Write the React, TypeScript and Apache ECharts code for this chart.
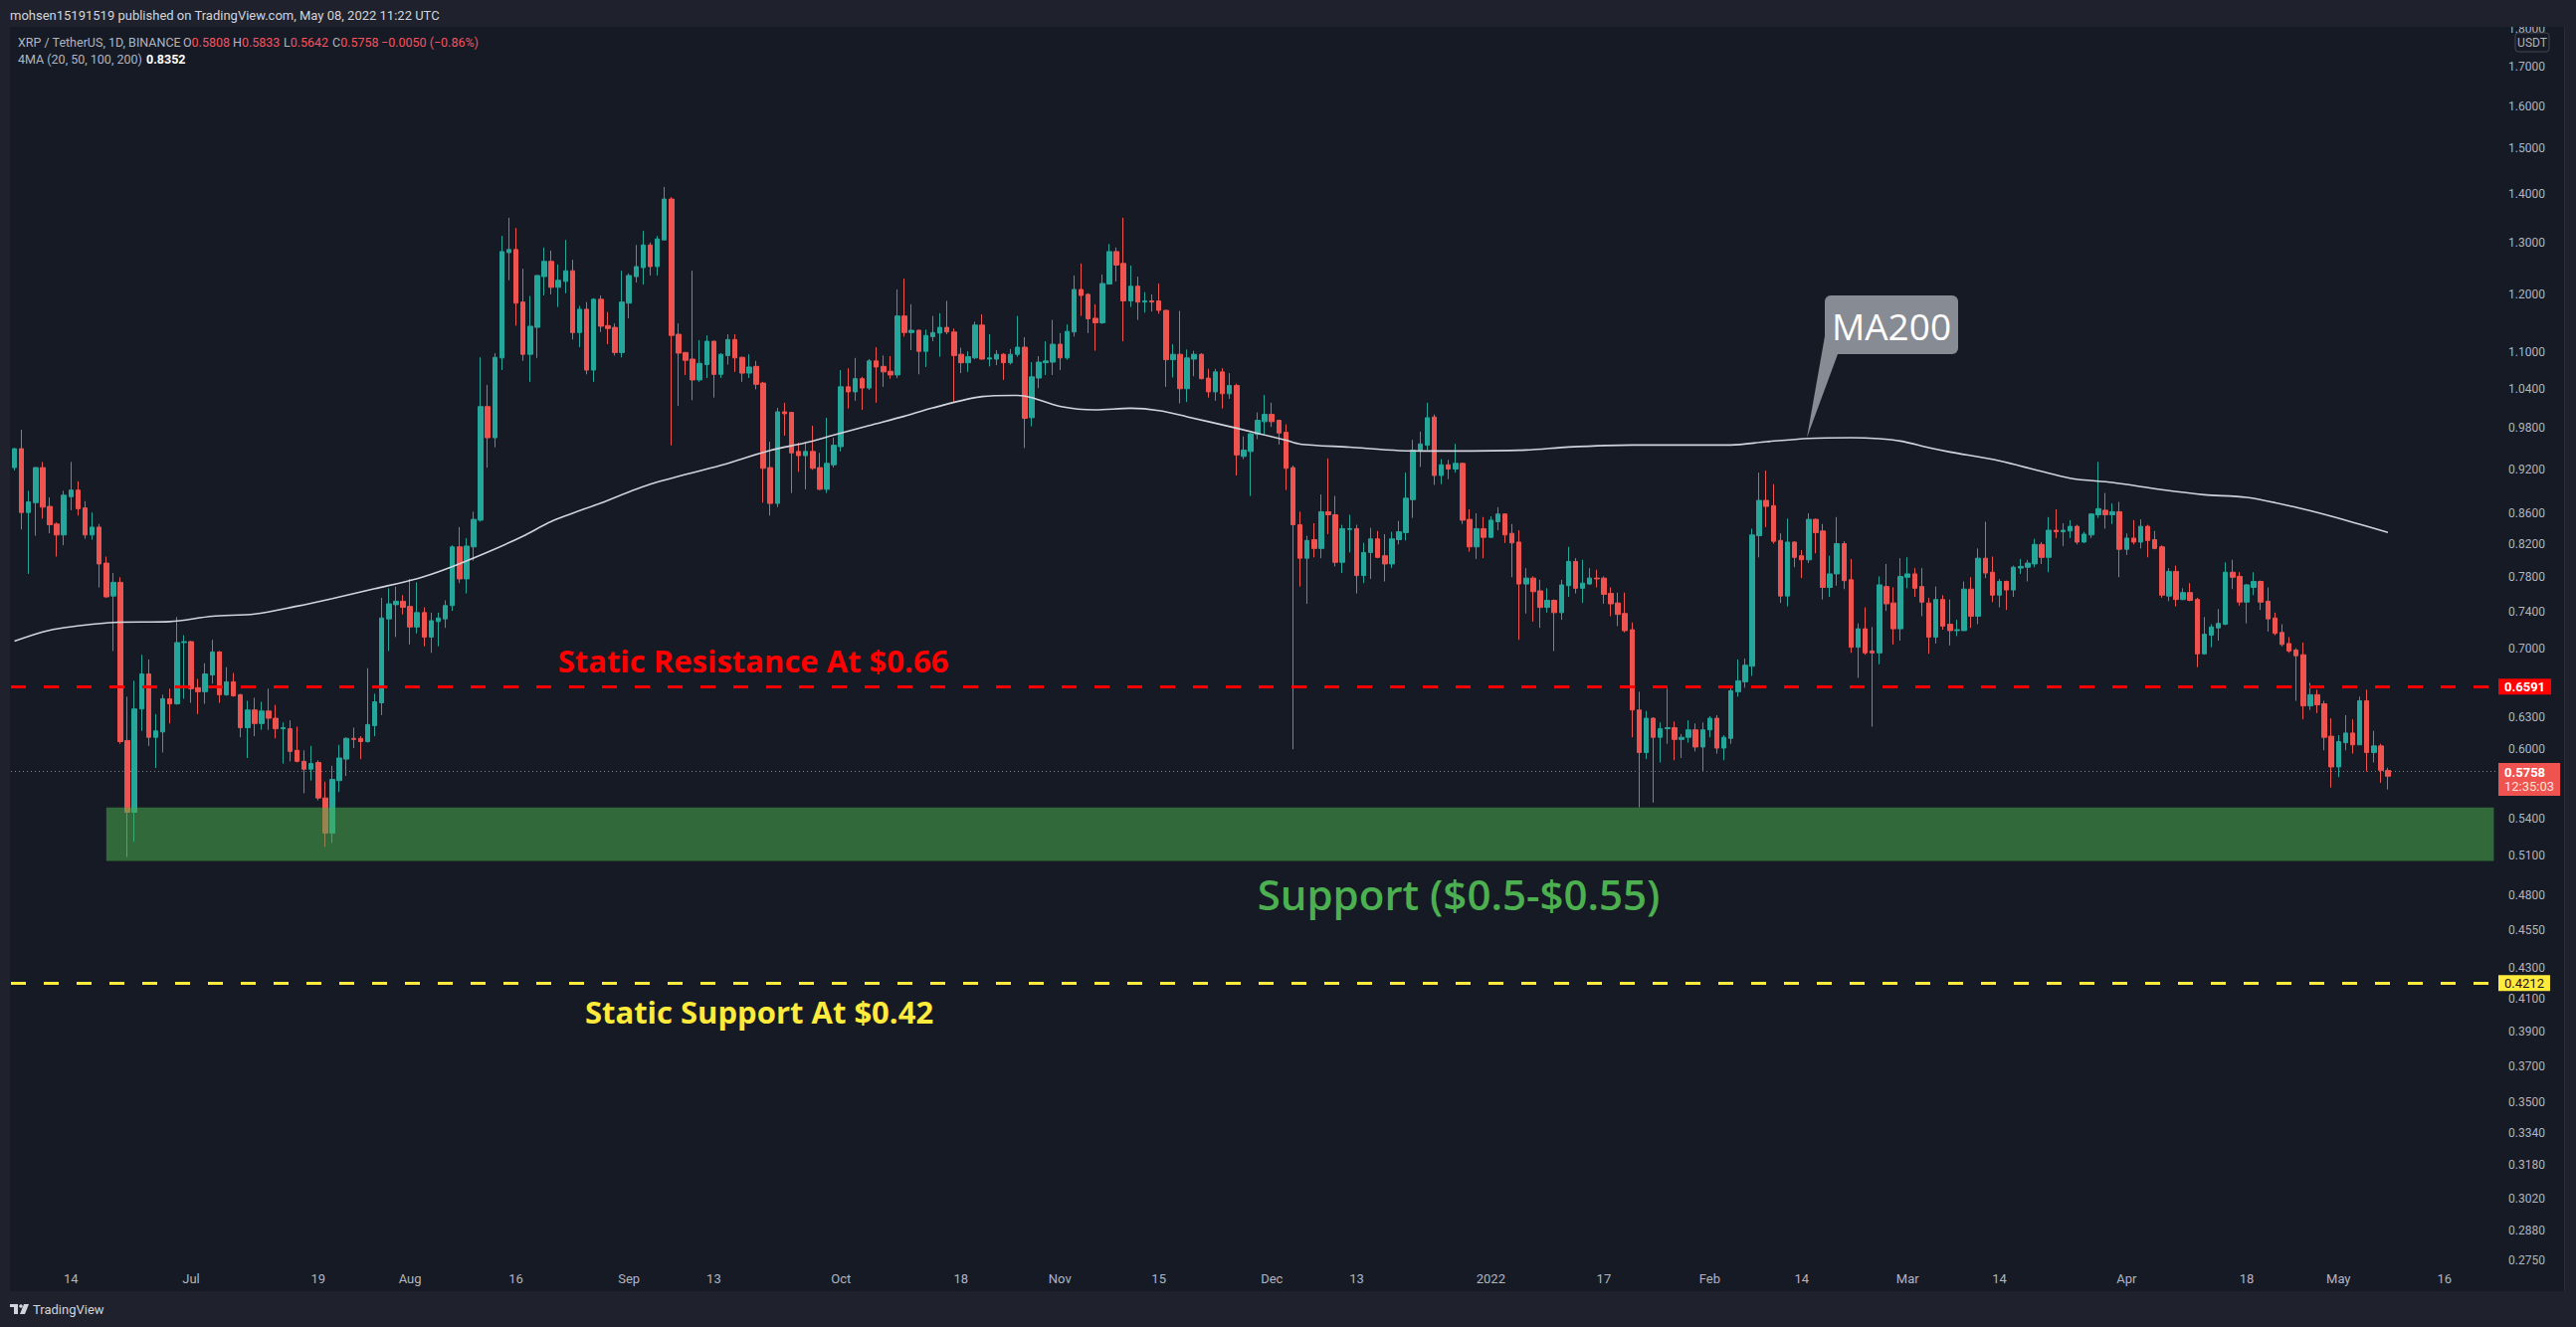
import React, { useEffect, useRef } from "react";
import * as echarts from "echarts";

// ---------- categories (daily) ----------
const START_UTC = Date.UTC(2021, 5, 6);
const DAY_COUNT = 352;
const dates: string[] = Array.from({ length: DAY_COUNT }, (_, i) =>
  new Date(START_UTC + i * 86400000).toISOString().slice(0, 10)
);

// ---------- OHLC [open, close, low, high] ----------
const jun2021 = [
  [0.922, 0.949, 0.918, 0.950], [0.949, 0.861, 0.839, 0.977], [0.861, 0.875, 0.784, 0.890], [0.874, 0.922, 0.831, 0.923],
  [0.922, 0.868, 0.853, 0.930], [0.869, 0.845, 0.834, 0.881], [0.846, 0.832, 0.805, 0.848], [0.832, 0.884, 0.819, 0.890],
  [0.882, 0.891, 0.864, 0.930], [0.891, 0.866, 0.857, 0.903], [0.867, 0.832, 0.827, 0.876], [0.832, 0.842, 0.826, 0.861],
  [0.842, 0.796, 0.768, 0.846], [0.797, 0.757, 0.756, 0.805], [0.758, 0.774, 0.697, 0.785], [0.774, 0.607, 0.605, 0.780],
  [0.608, 0.545, 0.509, 0.650], [0.545, 0.638, 0.521, 0.666], [0.638, 0.673, 0.617, 0.693], [0.673, 0.611, 0.603, 0.688],
  [0.611, 0.617, 0.583, 0.633], [0.616, 0.648, 0.597, 0.652], [0.648, 0.643, 0.624, 0.658], [0.643, 0.706, 0.642, 0.734],
  [0.706, 0.707, 0.648, 0.714],
];
const jul2021 = [
  [0.707, 0.658, 0.644, 0.708], [0.659, 0.655, 0.633, 0.668], [0.655, 0.673, 0.643, 0.684], [0.672, 0.696, 0.663, 0.709],
  [0.696, 0.652, 0.644, 0.697], [0.652, 0.665, 0.651, 0.680], [0.665, 0.651, 0.650, 0.674], [0.652, 0.620, 0.611, 0.653],
  [0.620, 0.637, 0.592, 0.646], [0.637, 0.624, 0.612, 0.649], [0.624, 0.636, 0.618, 0.645], [0.636, 0.629, 0.618, 0.658],
  [0.629, 0.619, 0.610, 0.642], [0.619, 0.620, 0.587, 0.625], [0.619, 0.598, 0.589, 0.627], [0.599, 0.589, 0.588, 0.621],
  [0.589, 0.582, 0.561, 0.599], [0.582, 0.587, 0.572, 0.603], [0.588, 0.557, 0.555, 0.590], [0.557, 0.528, 0.517, 0.571],
  [0.528, 0.573, 0.520, 0.585], [0.572, 0.592, 0.562, 0.604], [0.591, 0.610, 0.576, 0.611], [0.610, 0.609, 0.601, 0.620],
  [0.610, 0.607, 0.591, 0.612], [0.607, 0.623, 0.606, 0.679], [0.622, 0.645, 0.612, 0.653], [0.644, 0.733, 0.632, 0.756],
  [0.732, 0.749, 0.697, 0.767], [0.748, 0.752, 0.712, 0.769], [0.752, 0.745, 0.737, 0.759],
];
const aug2021 = [
  [0.746, 0.723, 0.704, 0.778], [0.723, 0.739, 0.716, 0.774], [0.739, 0.712, 0.702, 0.745], [0.712, 0.730, 0.695, 0.739],
  [0.729, 0.733, 0.702, 0.739], [0.732, 0.747, 0.722, 0.753], [0.747, 0.817, 0.741, 0.819], [0.817, 0.778, 0.773, 0.842],
  [0.778, 0.818, 0.761, 0.828], [0.817, 0.852, 0.800, 0.862], [0.851, 1.012, 0.849, 1.091], [1.012, 0.965, 0.922, 1.046],
  [0.965, 1.091, 0.951, 1.098], [1.090, 1.282, 1.070, 1.313], [1.280, 1.286, 1.227, 1.350], [1.286, 1.185, 1.145, 1.329],
  [1.187, 1.096, 1.085, 1.249], [1.096, 1.144, 1.051, 1.198], [1.142, 1.236, 1.090, 1.237], [1.234, 1.263, 1.199, 1.290],
  [1.263, 1.214, 1.201, 1.284], [1.214, 1.227, 1.178, 1.257], [1.225, 1.245, 1.203, 1.305], [1.245, 1.133, 1.121, 1.266],
  [1.133, 1.174, 1.108, 1.180], [1.174, 1.070, 1.063, 1.187], [1.070, 1.192, 1.051, 1.194], [1.192, 1.144, 1.134, 1.199],
  [1.145, 1.140, 1.113, 1.169], [1.142, 1.099, 1.094, 1.149], [1.099, 1.187, 1.091, 1.245],
];
const sep2021 = [
  [1.185, 1.236, 1.158, 1.240], [1.234, 1.253, 1.223, 1.295], [1.251, 1.295, 1.219, 1.323], [1.295, 1.253, 1.236, 1.300],
  [1.253, 1.307, 1.236, 1.313], [1.305, 1.389, 1.305, 1.415], [1.389, 1.128, 0.954, 1.393], [1.130, 1.098, 1.013, 1.149],
  [1.099, 1.086, 1.062, 1.100], [1.088, 1.054, 1.022, 1.245], [1.054, 1.081, 1.051, 1.120], [1.079, 1.118, 1.057, 1.128],
  [1.118, 1.063, 1.026, 1.119], [1.063, 1.096, 1.057, 1.098], [1.094, 1.121, 1.079, 1.130], [1.121, 1.090, 1.067, 1.130],
  [1.091, 1.065, 1.051, 1.092], [1.065, 1.075, 1.057, 1.096], [1.076, 1.047, 1.039, 1.085], [1.049, 0.921, 0.874, 1.051],
  [0.922, 0.873, 0.857, 0.959], [0.873, 1.004, 0.868, 1.010], [1.004, 1.001, 0.968, 1.018], [1.003, 0.943, 0.887, 1.004],
  [0.945, 0.939, 0.916, 0.958], [0.939, 0.945, 0.892, 0.958], [0.945, 0.921, 0.919, 0.983], [0.922, 0.892, 0.891, 0.943],
  [0.892, 0.928, 0.887, 0.995], [0.926, 0.954, 0.922, 0.965],
];
const oct2021 = [
  [0.952, 1.043, 0.945, 1.070], [1.043, 1.035, 1.009, 1.073], [1.035, 1.056, 1.021, 1.090], [1.056, 1.041, 1.007, 1.059],
  [1.041, 1.085, 1.038, 1.088], [1.085, 1.075, 1.018, 1.108], [1.076, 1.067, 1.043, 1.094], [1.068, 1.062, 1.056, 1.093],
  [1.062, 1.162, 1.057, 1.210], [1.162, 1.133, 1.126, 1.230], [1.133, 1.137, 1.103, 1.183], [1.137, 1.101, 1.063, 1.138],
  [1.101, 1.128, 1.075, 1.138], [1.126, 1.133, 1.118, 1.162], [1.132, 1.142, 1.092, 1.167], [1.142, 1.134, 1.130, 1.189],
  [1.134, 1.094, 1.019, 1.140], [1.096, 1.082, 1.065, 1.107], [1.082, 1.092, 1.067, 1.101], [1.090, 1.146, 1.088, 1.152],
  [1.146, 1.088, 1.087, 1.165], [1.088, 1.090, 1.076, 1.130], [1.088, 1.096, 1.078, 1.103], [1.096, 1.082, 1.054, 1.098],
  [1.082, 1.096, 1.079, 1.105], [1.096, 1.108, 1.092, 1.162], [1.108, 0.994, 0.950, 1.125], [0.995, 1.059, 0.982, 1.083],
  [1.057, 1.083, 1.041, 1.093], [1.082, 1.085, 1.062, 1.118], [1.083, 1.113, 1.062, 1.155],
];
const nov2021 = [
  [1.113, 1.090, 1.070, 1.132], [1.090, 1.135, 1.087, 1.147], [1.134, 1.210, 1.126, 1.236], [1.210, 1.199, 1.162, 1.259],
  [1.201, 1.157, 1.132, 1.203], [1.158, 1.150, 1.102, 1.183], [1.150, 1.221, 1.148, 1.238], [1.220, 1.282, 1.220, 1.297],
  [1.282, 1.256, 1.225, 1.290], [1.259, 1.189, 1.118, 1.350], [1.189, 1.216, 1.178, 1.255], [1.216, 1.187, 1.155, 1.234],
  [1.187, 1.189, 1.168, 1.205], [1.189, 1.187, 1.170, 1.201], [1.189, 1.172, 1.166, 1.221], [1.172, 1.087, 1.043, 1.173],
  [1.087, 1.096, 1.058, 1.113], [1.096, 1.040, 1.017, 1.171], [1.040, 1.090, 1.019, 1.104], [1.088, 1.096, 1.060, 1.102],
  [1.096, 1.056, 1.055, 1.098], [1.057, 1.035, 1.026, 1.072], [1.035, 1.067, 1.021, 1.072], [1.067, 1.032, 1.009, 1.073],
  [1.032, 1.045, 1.024, 1.065], [1.045, 0.940, 0.911, 1.048], [0.938, 0.947, 0.934, 0.967], [0.945, 0.971, 0.883, 0.972],
  [0.970, 0.991, 0.963, 1.003], [0.989, 1.000, 0.970, 1.030],
];
const dec2021 = [
  [1.000, 0.989, 0.981, 1.018], [0.991, 0.972, 0.955, 0.992], [0.973, 0.921, 0.891, 0.985], [0.922, 0.845, 0.600, 0.925],
  [0.845, 0.803, 0.769, 0.862], [0.803, 0.825, 0.749, 0.831], [0.826, 0.815, 0.804, 0.847], [0.815, 0.862, 0.803, 0.885],
  [0.862, 0.858, 0.833, 0.935], [0.858, 0.798, 0.793, 0.883], [0.798, 0.840, 0.785, 0.845], [0.839, 0.840, 0.810, 0.858],
  [0.840, 0.782, 0.761, 0.845], [0.782, 0.810, 0.773, 0.822], [0.810, 0.827, 0.778, 0.841], [0.827, 0.804, 0.803, 0.837],
  [0.806, 0.796, 0.775, 0.833], [0.796, 0.827, 0.791, 0.836], [0.826, 0.836, 0.820, 0.850], [0.835, 0.880, 0.825, 0.915],
  [0.878, 0.947, 0.854, 0.962], [0.947, 0.956, 0.923, 0.974], [0.954, 0.995, 0.947, 1.018], [0.996, 0.911, 0.898, 1.000],
  [0.911, 0.926, 0.899, 0.934], [0.926, 0.920, 0.906, 0.933], [0.920, 0.928, 0.915, 0.956], [0.928, 0.851, 0.846, 0.929],
  [0.852, 0.817, 0.811, 0.865], [0.817, 0.840, 0.802, 0.860], [0.840, 0.829, 0.803, 0.855],
];
const jan2022 = [
  [0.829, 0.851, 0.828, 0.856], [0.849, 0.859, 0.838, 0.868], [0.859, 0.832, 0.822, 0.860], [0.834, 0.822, 0.780, 0.846],
  [0.823, 0.772, 0.709, 0.838], [0.772, 0.779, 0.738, 0.791], [0.779, 0.763, 0.729, 0.781], [0.764, 0.745, 0.722, 0.777],
  [0.745, 0.753, 0.739, 0.767], [0.753, 0.739, 0.697, 0.754], [0.739, 0.771, 0.731, 0.777], [0.770, 0.799, 0.757, 0.817],
  [0.799, 0.767, 0.761, 0.803], [0.767, 0.773, 0.750, 0.801], [0.772, 0.779, 0.771, 0.791], [0.779, 0.778, 0.768, 0.789],
  [0.779, 0.760, 0.749, 0.781], [0.761, 0.749, 0.735, 0.768], [0.750, 0.737, 0.724, 0.762], [0.738, 0.719, 0.717, 0.762],
  [0.720, 0.637, 0.611, 0.728], [0.637, 0.597, 0.549, 0.655], [0.597, 0.629, 0.591, 0.636], [0.629, 0.611, 0.553, 0.630],
  [0.611, 0.619, 0.588, 0.625], [0.619, 0.620, 0.605, 0.658], [0.620, 0.609, 0.590, 0.626], [0.609, 0.611, 0.592, 0.614],
  [0.611, 0.618, 0.606, 0.627], [0.618, 0.602, 0.598, 0.624], [0.602, 0.618, 0.580, 0.625],
];
const feb2022 = [
  [0.618, 0.629, 0.611, 0.631], [0.629, 0.601, 0.596, 0.632], [0.601, 0.611, 0.590, 0.613], [0.610, 0.656, 0.605, 0.659],
  [0.655, 0.666, 0.650, 0.688], [0.665, 0.682, 0.659, 0.689], [0.681, 0.832, 0.671, 0.840], [0.831, 0.877, 0.804, 0.915],
  [0.877, 0.869, 0.842, 0.918], [0.870, 0.824, 0.821, 0.899], [0.825, 0.758, 0.750, 0.834], [0.758, 0.823, 0.746, 0.853],
  [0.823, 0.804, 0.792, 0.824], [0.806, 0.801, 0.779, 0.813], [0.801, 0.852, 0.797, 0.860], [0.852, 0.835, 0.809, 0.853],
  [0.837, 0.768, 0.754, 0.846], [0.768, 0.784, 0.757, 0.806], [0.784, 0.821, 0.770, 0.855], [0.821, 0.776, 0.766, 0.824],
  [0.777, 0.701, 0.695, 0.802], [0.701, 0.721, 0.669, 0.727], [0.721, 0.695, 0.693, 0.745], [0.697, 0.695, 0.621, 0.723],
  [0.695, 0.771, 0.683, 0.781], [0.769, 0.749, 0.741, 0.796], [0.750, 0.721, 0.704, 0.768], [0.721, 0.781, 0.708, 0.803],
];
const mar2022 = [
  [0.780, 0.784, 0.767, 0.804], [0.784, 0.767, 0.757, 0.791], [0.769, 0.751, 0.735, 0.791], [0.750, 0.712, 0.694, 0.756],
  [0.712, 0.754, 0.705, 0.769], [0.754, 0.724, 0.720, 0.759], [0.726, 0.719, 0.703, 0.754], [0.719, 0.720, 0.713, 0.731],
  [0.719, 0.766, 0.719, 0.775], [0.766, 0.735, 0.722, 0.780], [0.735, 0.803, 0.726, 0.815], [0.803, 0.785, 0.779, 0.849],
  [0.786, 0.759, 0.751, 0.805], [0.759, 0.775, 0.745, 0.778], [0.775, 0.765, 0.742, 0.776], [0.765, 0.792, 0.757, 0.794],
  [0.791, 0.793, 0.784, 0.802], [0.792, 0.797, 0.775, 0.801], [0.796, 0.820, 0.792, 0.827], [0.820, 0.804, 0.796, 0.823],
  [0.804, 0.838, 0.786, 0.855], [0.838, 0.836, 0.828, 0.865], [0.836, 0.838, 0.818, 0.847], [0.837, 0.843, 0.828, 0.851],
  [0.843, 0.823, 0.820, 0.845], [0.823, 0.833, 0.822, 0.836], [0.832, 0.859, 0.828, 0.860], [0.858, 0.866, 0.854, 0.930],
  [0.864, 0.858, 0.840, 0.887], [0.858, 0.862, 0.846, 0.873], [0.862, 0.814, 0.780, 0.875],
];
const apr2022 = [
  [0.814, 0.828, 0.807, 0.834], [0.828, 0.823, 0.820, 0.851], [0.823, 0.843, 0.815, 0.852], [0.843, 0.825, 0.804, 0.845],
  [0.826, 0.815, 0.814, 0.837], [0.817, 0.759, 0.756, 0.819], [0.758, 0.787, 0.752, 0.791], [0.787, 0.754, 0.746, 0.794],
  [0.754, 0.762, 0.753, 0.767], [0.762, 0.753, 0.752, 0.773], [0.754, 0.694, 0.680, 0.756], [0.694, 0.715, 0.693, 0.734],
  [0.714, 0.723, 0.701, 0.726], [0.722, 0.727, 0.708, 0.743], [0.726, 0.786, 0.725, 0.798], [0.786, 0.780, 0.766, 0.801],
  [0.781, 0.751, 0.747, 0.786], [0.751, 0.771, 0.727, 0.772], [0.768, 0.775, 0.759, 0.786], [0.775, 0.751, 0.742, 0.776],
  [0.752, 0.732, 0.718, 0.768], [0.733, 0.716, 0.714, 0.739], [0.717, 0.704, 0.702, 0.726], [0.705, 0.697, 0.695, 0.712],
  [0.698, 0.692, 0.646, 0.700], [0.693, 0.641, 0.628, 0.706], [0.641, 0.652, 0.637, 0.664], [0.652, 0.642, 0.634, 0.657],
  [0.643, 0.611, 0.599, 0.646], [0.612, 0.584, 0.566, 0.629],
];
const may2022 = [
  [0.584, 0.607, 0.575, 0.613], [0.606, 0.615, 0.599, 0.632], [0.615, 0.604, 0.596, 0.628], [0.604, 0.646, 0.604, 0.650],
  [0.646, 0.597, 0.580, 0.657], [0.597, 0.603, 0.588, 0.617], [0.603, 0.581, 0.570, 0.605], [0.5808, 0.5758, 0.5642, 0.5833],
];
const candles = [
  ...jun2021, ...jul2021, ...aug2021, ...sep2021, ...oct2021, ...nov2021,
  ...dec2021, ...jan2022, ...feb2022, ...mar2022, ...apr2022, ...may2022,
];

// ---------- MA200 ----------
const maDates = [
  "2021-06-06", "2021-06-10", "2021-06-13", "2021-06-20", "2021-06-28", "2021-07-04", "2021-07-10", "2021-07-16",
  "2021-07-21", "2021-07-27", "2021-08-02", "2021-08-06", "2021-08-12", "2021-08-17", "2021-08-21", "2021-08-28",
  "2021-09-04", "2021-09-14", "2021-09-21", "2021-09-26", "2021-09-30", "2021-10-05", "2021-10-10", "2021-10-14",
  "2021-10-21", "2021-10-26", "2021-10-28", "2021-11-01", "2021-11-06", "2021-11-11", "2021-11-15", "2021-11-19",
  "2021-11-26", "2021-12-03", "2021-12-05", "2021-12-12", "2021-12-19", "2021-12-24", "2022-01-06", "2022-01-12",
  "2022-01-21", "2022-02-04", "2022-02-09", "2022-02-15", "2022-02-21", "2022-02-25", "2022-02-28", "2022-03-04",
  "2022-03-07", "2022-03-14", "2022-03-24", "2022-03-30", "2022-04-06", "2022-04-12", "2022-04-18", "2022-04-25",
  "2022-04-30", "2022-05-08",
];
const maValues = [
  0.7075, 0.7175, 0.7222, 0.728, 0.729, 0.735, 0.7374, 0.7463,
  0.755, 0.7665, 0.7783, 0.7895, 0.8105, 0.8304, 0.8492, 0.8735,
  0.899, 0.9253, 0.9466, 0.9577, 0.969, 0.9832, 0.9973, 1.01,
  1.0277, 1.0295, 1.026, 1.0123, 1.0069, 1.0094, 1.0059, 0.9964,
  0.9793, 0.9613, 0.9557, 0.9512, 0.9463, 0.9457, 0.9471, 0.9515,
  0.9544, 0.9544, 0.9592, 0.964, 0.965, 0.9636, 0.9602, 0.9505,
  0.9443, 0.9316, 0.9072, 0.9013, 0.8914, 0.8846, 0.881, 0.8678,
  0.856, 0.8352,
];

// ---------- axis ticks ----------
const timeTickDates = [
  "2021-06-14", "2021-07-01", "2021-07-19", "2021-08-01", "2021-08-16", "2021-09-01", "2021-09-13", "2021-10-01",
  "2021-10-18", "2021-11-01", "2021-11-15", "2021-12-01", "2021-12-13", "2022-01-01", "2022-01-17", "2022-02-01",
  "2022-02-14", "2022-03-01", "2022-03-14", "2022-04-01", "2022-04-18", "2022-05-01", "2022-05-16",
];
const timeTickLabels = [
  "14", "Jul", "19", "Aug", "16", "Sep", "13", "Oct", "18", "Nov", "15", "Dec", "13", "2022", "17", "Feb",
  "14", "Mar", "14", "Apr", "18", "May", "16",
];
const priceTicks = [
  1.8, 1.7, 1.6, 1.5, 1.4, 1.3, 1.2, 1.1, 1.04, 0.98, 0.92, 0.86, 0.82, 0.78, 0.74, 0.7, 0.63, 0.6,
  0.54, 0.51, 0.48, 0.455, 0.43, 0.41, 0.39, 0.37, 0.35, 0.334, 0.318, 0.302, 0.288, 0.275,
];

// ---------- levels ----------
const resistanceLevel = 0.6591;
const staticSupportLevel = 0.4212;
const lastPrice = 0.5758;
const countdown = "12:35:03";
const supportZoneTop = 0.549;
const supportZoneBottom = 0.506;
const supportZoneStart = "2021-06-19";

const GREEN = "#26a69a";
const RED = "#ef5350";
const FONT = "Roboto, 'Noto Sans', sans-serif";
const ANN_FONT = "'Open Sans', 'Noto Sans', sans-serif";

export default function App() {
  const ref = useRef<HTMLDivElement>(null);

  useEffect(() => {
    if (!ref.current) return;
    const chart = echarts.init(ref.current, undefined, { renderer: "svg" });
    const tickMap: Record<string, string> = {};
    timeTickDates.forEach((d, k) => (tickMap[d] = timeTickLabels[k]));

    const option: any = {
      animation: false,
      backgroundColor: "transparent",
      textStyle: { fontFamily: FONT },
      grid: { left: 11, right: 79, top: 27, bottom: 62, containLabel: false },
      xAxis: {
        type: "category",
        data: dates,
        boundaryGap: true,
        axisLine: { show: false },
        axisTick: { show: false },
        splitLine: { show: false },
        axisLabel: {
          interval: (_i: number, v: string) => v in tickMap,
          formatter: (v: string) => tickMap[v] ?? "",
          color: "#b2b5be",
          fontSize: 13,
          margin: 7,
          fontFamily: FONT,
        },
      },
      yAxis: {
        type: "log",
        position: "right",
        min: 0.273,
        max: 1.8063,
        axisLine: { show: false },
        axisTick: { show: false },
        splitLine: { show: false },
        axisLabel: {
          customValues: priceTicks,
          formatter: (v: number) => Number(v).toFixed(4),
          color: "#b2b5be",
          fontSize: 12,
          margin: 11,
          fontFamily: FONT,
        },
      },
      series: [
        {
          type: "candlestick",
          name: "XRPUSDT",
          data: candles,
          barWidth: 5,
          z: 2,
          itemStyle: {
            color: GREEN,
            color0: RED,
            borderColor: GREEN,
            borderColor0: RED,
            borderWidth: 1,
          },
          markLine: {
            silent: true,
            symbol: ["none", "none"],
            animation: false,
            data: [
              {
                yAxis: resistanceLevel,
                lineStyle: { color: "#ff0000", width: 3, type: [15, 18] },
                label: {
                  show: true,
                  position: "end",
                  distance: 1,
                  formatter: () => resistanceLevel.toFixed(4),
                  backgroundColor: "#ff0000",
                  color: "#ffffff",
                  fontWeight: "bold",
                  fontSize: 13,
                  fontFamily: FONT,
                  padding: [2, 6, 1, 6],
                },
              },
              {
                yAxis: staticSupportLevel,
                lineStyle: { color: "#ffeb3b", width: 3, type: [15, 18] },
                label: {
                  show: true,
                  position: "end",
                  distance: 1,
                  formatter: () => staticSupportLevel.toFixed(4),
                  backgroundColor: "#ffeb3b",
                  color: "#131722",
                  fontSize: 13,
                  fontFamily: FONT,
                  padding: [2, 6, 1, 6],
                },
              },
              {
                yAxis: lastPrice,
                lineStyle: { color: RED, width: 1, type: [1, 3] },
                label: {
                  show: true,
                  position: "end",
                  distance: 1,
                  offset: [0, 8],
                  formatter: () => `{a|${lastPrice.toFixed(4)}}\n{b|${countdown}}`,
                  backgroundColor: RED,
                  padding: [3, 6, 2, 6],
                  rich: {
                    a: { color: "#ffffff", fontWeight: "bold", fontSize: 13, fontFamily: FONT, lineHeight: 14 },
                    b: { color: "#fde0df", fontSize: 13, fontFamily: FONT, lineHeight: 14 },
                  },
                },
              },
            ],
          },
        },
        {
          type: "line",
          name: "MA200",
          data: maDates.map((d, k) => [d, maValues[k]]),
          showSymbol: false,
          smooth: 0.3,
          z: 3,
          lineStyle: { color: "#d1d4dc", width: 1.6 },
          markArea: {
            silent: true,
            z: 10,
            itemStyle: { color: "rgba(76,175,80,0.53)" },
            data: [
              [
                { xAxis: supportZoneStart, yAxis: supportZoneTop },
                { xAxis: dates[dates.length - 1], yAxis: supportZoneBottom },
              ],
            ],
          },
        },
      ],
      graphic: [
        { type: "rect", z: 50, shape: { x: 2500, y: 0, width: 89, height: 27 }, style: { fill: "#1f222c" } },
        {
          type: "rect",
          z: 60,
          shape: { x: 2528, y: 33, width: 34, height: 19, r: 3 },
          style: { fill: "#161a25", stroke: "#434651", lineWidth: 1 },
        },
        {
          type: "text",
          z: 61,
          x: 2545,
          y: 43,
          style: { text: "USDT", fill: "#b2b5be", fontSize: 12, fontFamily: FONT, align: "center", verticalAlign: "middle", textAlign: "center", textVerticalAlign: "middle" },
        },
        {
          type: "text",
          z: 60,
          x: 10,
          y: 15,
          style: { text: "mohsen15191519 published on TradingView.com, May 08, 2022 11:22 UTC", fill: "#d1d4dc", fontSize: 13, fontFamily: FONT, verticalAlign: "middle", textVerticalAlign: "middle" },
        },
        {
          type: "text",
          z: 60,
          x: 18,
          y: 42,
          style: { text: "XRP / TetherUS, 1D, BINANCE", fill: "#b2b5be", fontSize: 12.5, fontFamily: FONT, verticalAlign: "middle", textVerticalAlign: "middle" },
        },
        ...[
          ["O", "0.5808", 184],
          ["H", "0.5833", 234],
          ["L", "0.5642", 285],
          ["C", "0.5758", 334],
        ].map(([k, v, x]) => ({
          type: "text",
          z: 60,
          x: x as number,
          y: 42,
          style: {
            text: `{k|${k}}{v|${v}}`,
            verticalAlign: "middle",
            textVerticalAlign: "middle",
            rich: {
              k: { fill: "#b2b5be", color: "#b2b5be", fontSize: 12.5, fontFamily: FONT },
              v: { fill: "#f7525f", color: "#f7525f", fontSize: 12.5, fontFamily: FONT },
            },
          },
        })),
        {
          type: "text",
          z: 60,
          x: 383,
          y: 42,
          style: { text: "\u22120.0050 (\u22120.86%)", fill: "#f7525f", fontSize: 12.5, fontFamily: FONT, verticalAlign: "middle", textVerticalAlign: "middle" },
        },
        {
          type: "text",
          z: 60,
          x: 18,
          y: 59,
          style: { text: "4MA (20, 50, 100, 200)", fill: "#b2b5be", fontSize: 12.5, fontFamily: FONT, verticalAlign: "middle", textVerticalAlign: "middle" },
        },
        {
          type: "text",
          z: 60,
          x: 147,
          y: 59,
          style: { text: "0.8352", fill: "#ffffff", fontSize: 12.5, fontWeight: "bold", fontFamily: FONT, verticalAlign: "middle", textVerticalAlign: "middle" },
        },
        {
          type: "text",
          z: 60,
          x: 757,
          y: 664,
          style: { text: "Static Resistance At $0.66", fill: "#ff0000", fontSize: 31, fontWeight: "bold", fontFamily: ANN_FONT, align: "center", verticalAlign: "middle", textAlign: "center", textVerticalAlign: "middle" },
        },
        {
          type: "text",
          z: 60,
          x: 1466,
          y: 898,
          style: { text: "Support ($0.5-$0.55)", fill: "#4caf50", fontSize: 42, fontWeight: 600, fontFamily: ANN_FONT, align: "center", verticalAlign: "middle", textAlign: "center", textVerticalAlign: "middle" },
        },
        {
          type: "text",
          z: 60,
          x: 763,
          y: 1017,
          style: { text: "Static Support At $0.42", fill: "#ffeb3b", fontSize: 31, fontWeight: "bold", fontFamily: ANN_FONT, align: "center", verticalAlign: "middle", textAlign: "center", textVerticalAlign: "middle" },
        },
        {
          type: "polygon",
          z: 60,
          shape: { points: [[1834, 338], [1847, 356], [1816, 440]] },
          style: { fill: "#878b94" },
        },
        {
          type: "rect",
          z: 60,
          shape: { x: 1834, y: 297, width: 134, height: 59, r: 6 },
          style: { fill: "#878b94" },
        },
        {
          type: "text",
          z: 61,
          x: 1901,
          y: 327,
          style: { text: "MA200", fill: "#ffffff", fontSize: 37, fontFamily: ANN_FONT, align: "center", verticalAlign: "middle", textAlign: "center", textVerticalAlign: "middle" },
        },
        { type: "rect", z: 60, shape: { x: 10, y: 1311, width: 8, height: 3 }, style: { fill: "#d1d4dc" } },
        { type: "rect", z: 60, shape: { x: 14, y: 1311, width: 4, height: 10 }, style: { fill: "#d1d4dc" } },
        { type: "circle", z: 60, shape: { cx: 21, cy: 1313, r: 1.8 }, style: { fill: "#d1d4dc" } },
        { type: "polygon", z: 60, shape: { points: [[24, 1311], [29, 1311], [25, 1321], [20, 1321]] }, style: { fill: "#d1d4dc" } },
        {
          type: "text",
          z: 60,
          x: 33,
          y: 1316,
          style: { text: "TradingView", fill: "#d1d4dc", fontSize: 13, fontFamily: FONT, verticalAlign: "middle", textVerticalAlign: "middle" },
        },
      ],
    };

    chart.setOption(option);
    return () => chart.dispose();
  }, []);

  return (
    <div style={{ position: "absolute", left: 0, top: 0, width: 2589, height: 1334, background: "#1f222c", overflow: "hidden" }}>
      <div
        style={{
          position: "absolute",
          left: 10,
          top: 27,
          width: 2568,
          height: 1271,
          background: "#161a25",
          borderRight: "1px solid #2a2e39",
          boxSizing: "border-box",
        }}
      />
      <div ref={ref} style={{ position: "absolute", left: 0, top: 0, width: 2589, height: 1334 }} />
    </div>
  );
}
